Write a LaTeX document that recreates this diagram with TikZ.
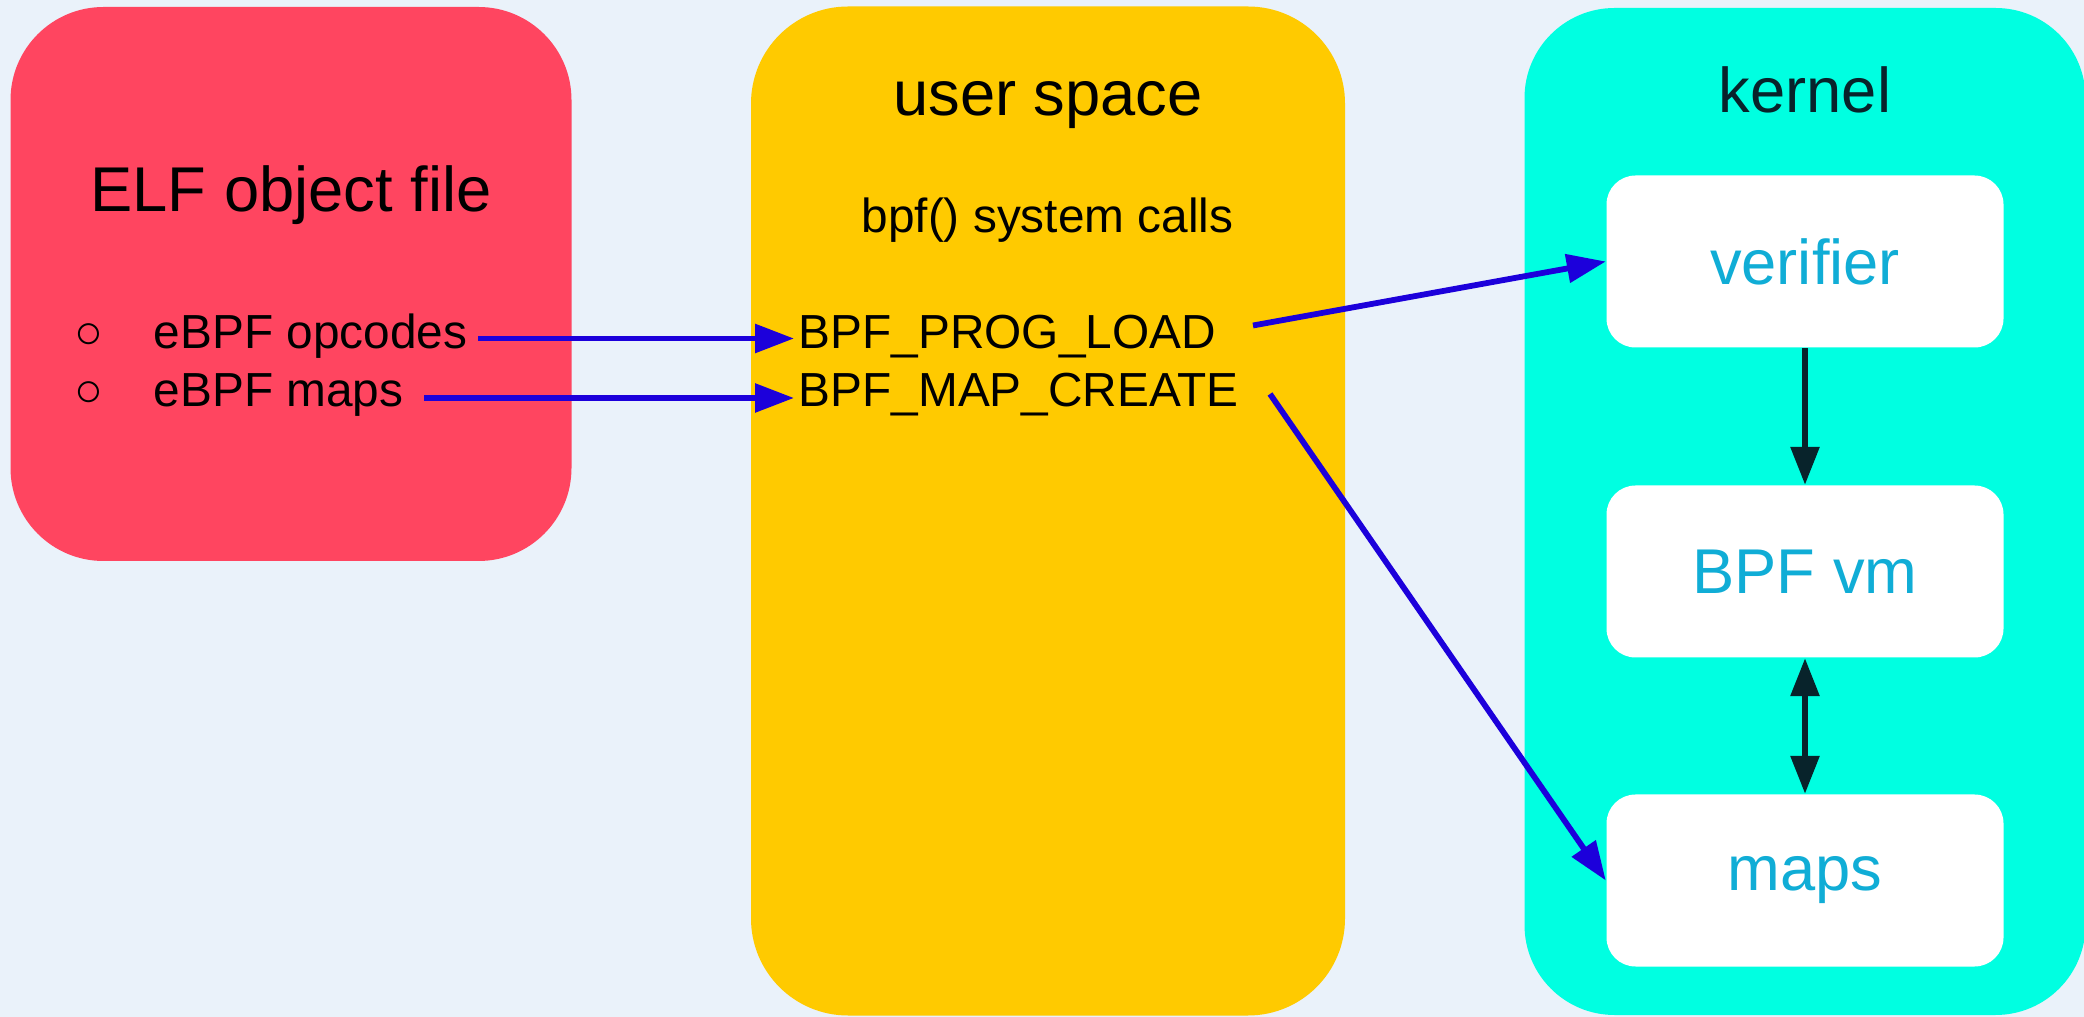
\documentclass[tikz,border=0pt]{standalone}
\usepackage{fontspec}
\setmainfont{Liberation Sans}
\usetikzlibrary{arrows.meta}

\definecolor{pagebg}{HTML}{EAF2FA}
\definecolor{elfred}{HTML}{FF4560}
\definecolor{useryellow}{HTML}{FFCA00}
\definecolor{kerncyan}{HTML}{00FFE1}
\definecolor{callblue}{HTML}{1C00DB}
\definecolor{kdark}{HTML}{08232B}
\definecolor{unittext}{HTML}{10ADD6}

\begin{document}
\begin{tikzpicture}[
        panel/.style={rectangle, inner sep=0pt, minimum width=5.61cm},
        unit/.style={rectangle, fill=white, rounded corners=0.29cm, minimum width=3.97cm, minimum height=1.72cm, text=unittext, font=\fontsize{18}{21}\selectfont},
        title/.style={anchor=base, inner sep=0pt, font=\fontsize{18}{21}\selectfont},
        call/.style={anchor=base west, inner sep=0pt, font=\fontsize{13.6}{16}\selectfont},
        item/.style={anchor=base west, inner sep=0pt, font=\fontsize{13.6}{16}\selectfont},
        arrow/.style={-{Triangle[length=0.39cm, width=0.28cm]}, line width=0.058cm, draw=callblue, fill=callblue},
        karrow/.style={-{Triangle[length=0.38cm, width=0.28cm]}, line width=0.06cm, draw=kdark, fill=kdark}
    ]

    \fill[pagebg] (0,0) rectangle (20.84,-10.17);
    \useasboundingbox (0,0) rectangle (20.84,-10.17);

    % ELF object file
    \node[panel, fill=elfred, rounded corners=0.93cm, minimum height=5.54cm] (elf) at (2.91,-2.84) {};
    \node[title] (elftitle) at (2.91,-2.12) {ELF object file};
    \node[item, anchor=base] (dot1) at (0.89,-3.485) {○};
    \node[item, anchor=base] (dot2) at (0.89,-4.07) {○};
    \node[item] (opcodes) at (1.53,-3.485) {eBPF opcodes};
    \node[item] (emaps) at (1.53,-4.07) {eBPF maps};

    % user space
    \node[panel, fill=useryellow, rounded corners=0.97cm, minimum width=5.94cm, minimum height=10.09cm] (user) at (10.48,-5.11) {};
    \node[title] (usertitle) at (10.48,-1.16) {user space};
    \node[call, anchor=base] (syscalls) at (10.475,-2.33) {bpf() system calls};
    \node[call] (load) at (7.98,-3.485) {BPF\_PROG\_LOAD};
    \node[call] (create) at (7.98,-4.07) {BPF\_MAP\_CREATE};

    % kernel
    \node[panel, fill=kerncyan, rounded corners=0.9cm, minimum height=10.07cm] (kern) at (18.05,-5.115) {};
    \node[title, text=kdark] (kerntitle) at (18.05,-1.13) {kernel};
    \node[unit] (verifier) at (18.05,-2.615) {verifier};
    \node[unit] (vm) at (18.05,-5.715) {BPF vm};
    \node[unit] (maps) at (18.05,-8.805) {maps};

    \draw[arrow] ([shift={(3.25,0.10)}]opcodes.base west) -- ([shift={(-0.04,0.10)}]load.base west);
    \draw[arrow] ([shift={(2.71,0.09)}]emaps.base west) -- ([shift={(-0.04,0.09)}]create.base west);
    \draw[arrow] ([shift={(4.55,0.23)}]load.base west) -- (verifier.west);
    \draw[arrow] ([shift={(4.72,0.13)}]create.base west) -- (maps.west);

    \draw[karrow] (verifier.south) -- (vm.north);
    \draw[karrow, {Triangle[length=0.38cm, width=0.28cm]}-{Triangle[length=0.38cm, width=0.28cm]}] (vm.south) -- (maps.north);

\end{tikzpicture}
\end{document}
